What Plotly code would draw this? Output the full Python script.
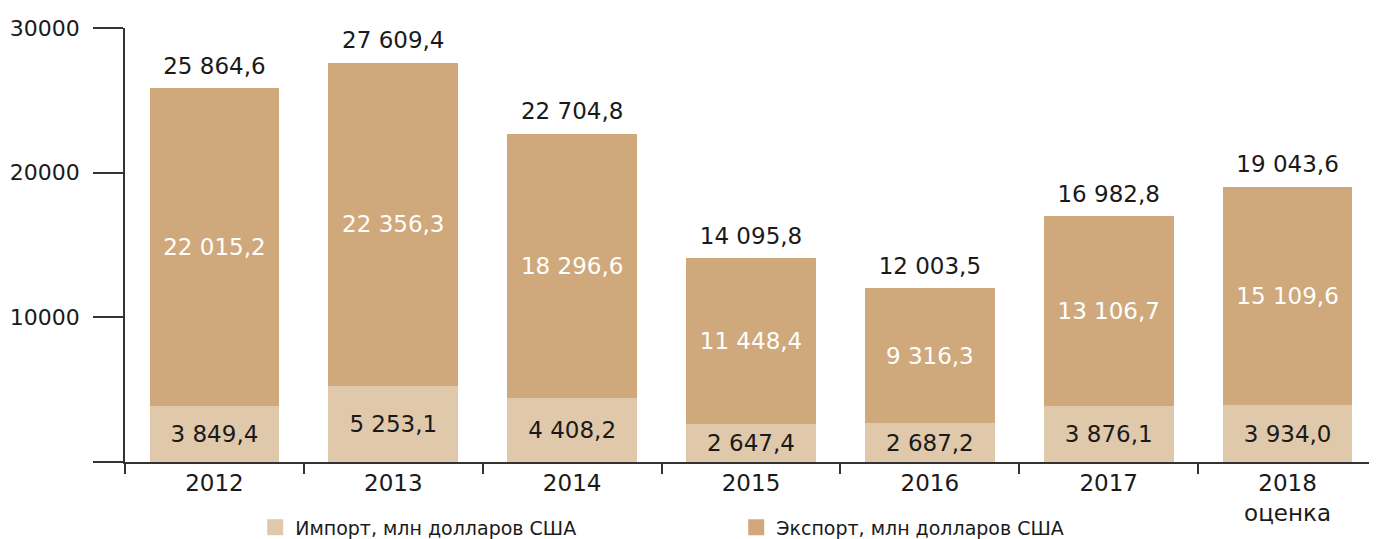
import plotly.graph_objects as go

years = ["2012", "2013", "2014", "2015", "2016", "2017", "2018<br>оценка"]
imports = [3849.4, 5253.1, 4408.2, 2647.4, 2687.2, 3876.1, 3934.0]
exports = [22015.2, 22356.3, 18296.6, 11448.4, 9316.3, 13106.7, 15109.6]
totals = [25864.6, 27609.4, 22704.8, 14095.8, 12003.5, 16982.8, 19043.6]

y_ticks = [0, 10000, 20000, 30000]
y_ticktext = ["", "10000", "20000", "30000"]

names = ["Импорт, млн долларов США", "Экспорт, млн долларов США"]


def fmt(v):
    return f"{v:,.1f}".replace(",", " ").replace(".", ",")


FONT = "DejaVu Sans"
C_IMP = "#E0C9AB"
C_EXP = "#CFA97C"
TXT = "#1a1a1a"

fig = go.Figure()
fig.add_trace(go.Bar(
    x=years, y=imports, name=names[0], showlegend=False,
    marker=dict(color=C_IMP, line=dict(width=0)),
    text=[fmt(v) for v in imports], textposition="inside",
    insidetextanchor="middle", constraintext="none",
    textfont=dict(family=FONT, size=23, color=TXT),
    width=0.725,
))
fig.add_trace(go.Bar(
    x=years, y=exports, name=names[1], showlegend=False,
    marker=dict(color=C_EXP, line=dict(width=0)),
    text=[fmt(v) for v in exports], textposition="inside",
    insidetextanchor="middle", constraintext="none",
    textfont=dict(family=FONT, size=23, color="white"),
    width=0.725,
))
fig.add_trace(go.Scatter(
    x=years, y=totals, mode="markers+text", showlegend=False,
    marker=dict(size=12, color="rgba(0,0,0,0)"),
    text=[fmt(v) for v in totals], textposition="top center",
    textfont=dict(family=FONT, size=23, color=TXT),
    cliponaxis=False, hoverinfo="skip",
))
# legend entries (square swatches)
for nm, col in zip(names, [C_IMP, C_EXP]):
    fig.add_trace(go.Scatter(
        x=[None], y=[None], mode="markers", name=nm,
        marker=dict(symbol="square", size=22, color=col),
    ))

fig.update_layout(
    width=1369, height=531,
    barmode="stack",
    margin=dict(l=117, r=0, t=20, b=77, pad=0, autoexpand=False),
    plot_bgcolor="white", paper_bgcolor="white",
    font=dict(family=FONT, size=20, color=TXT),
    showlegend=True,
    legend=dict(
        orientation="h", x=0.104, xanchor="left", y=-0.107, yanchor="top",
        bgcolor="rgba(0,0,0,0)",
        font=dict(family=FONT, size=19, color=TXT),
        entrywidth=436, entrywidthmode="pixels",
        itemsizing="trace", traceorder="normal",
    ),
    xaxis=dict(
        type="category", range=[-0.5, 6.5],
        showline=True, linecolor="#333333", linewidth=1.5,
        ticks="outside", tickson="boundaries", ticklen=10, tickcolor="#333333",
        tickwidth=1.5, showgrid=False, zeroline=False,
        tickfont=dict(family=FONT, size=23, color=TXT),
    ),
    yaxis=dict(
        range=[0, 30000], tickvals=y_ticks, ticktext=y_ticktext,
        showline=True, linecolor="#333333", linewidth=1.5,
        ticks="outside", ticklen=30, tickcolor="#333333", tickwidth=1.5,
        showgrid=False, zeroline=False, ticklabelstandoff=9,
        tickfont=dict(family=FONT, size=22, color=TXT),
    ),
)

fig.write_html("out.html")
